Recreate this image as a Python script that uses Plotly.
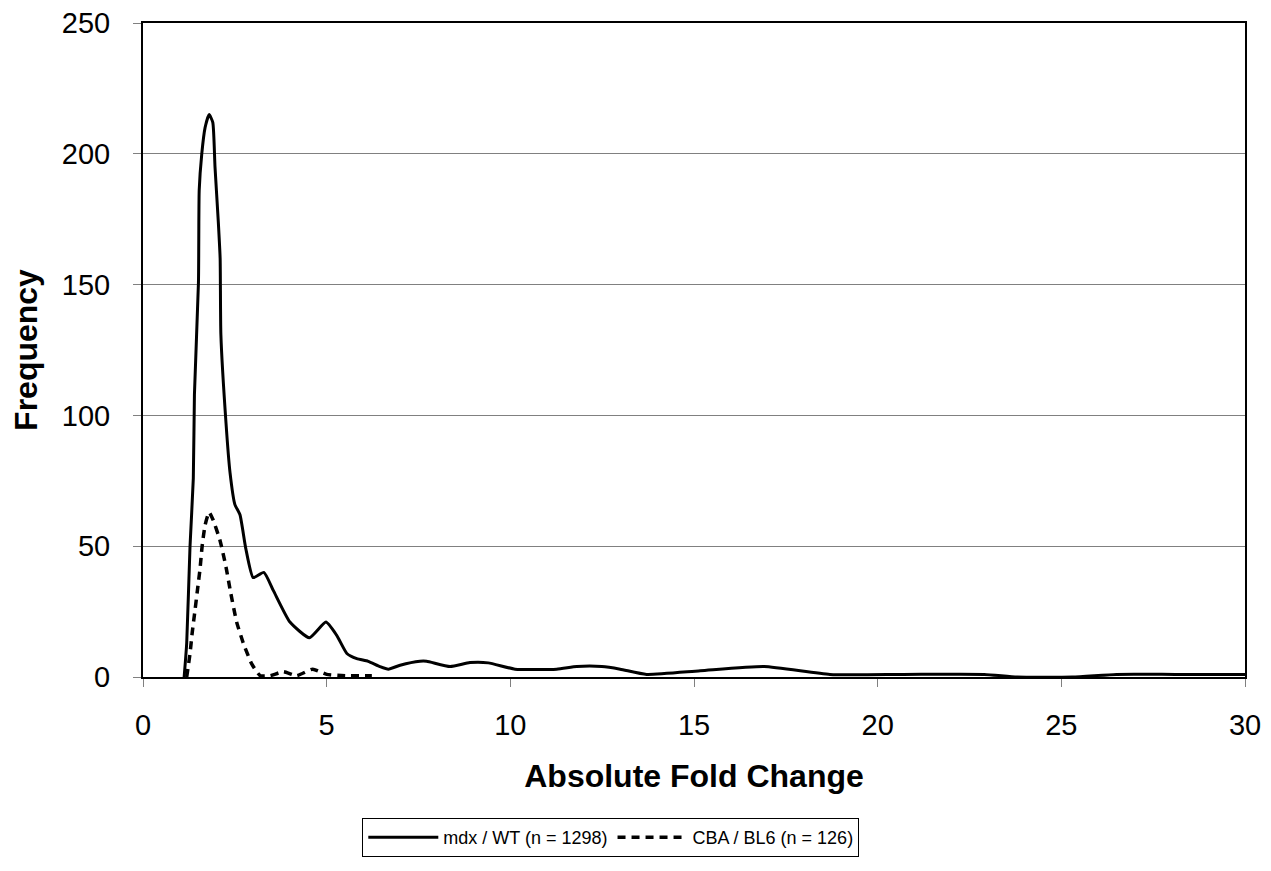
import plotly.graph_objects as go

# mdx / WT fold change distribution
x_mdx = [1.12, 1.19, 1.28, 1.37, 1.40, 1.51, 1.53, 1.60, 1.69, 1.80, 1.90, 1.96,
         2.05, 2.10, 2.12, 2.26, 2.37, 2.50, 2.64, 2.80, 3.00, 3.29, 3.55, 4.00,
         4.53, 4.98, 5.27, 5.55, 5.82, 6.13, 6.45, 6.68, 7.00, 7.54, 7.72, 8.36,
         8.90, 9.40, 10.13, 11.26, 11.81, 12.49, 12.99, 13.71, 15.17, 16.91,
         18.7, 20.7, 22.9, 23.8, 25.3, 26.5, 28.1, 30]
y_mdx = [0, 13, 50, 76, 108, 151, 186, 200, 210, 215, 212, 195,
         174, 160, 131, 97, 78, 66, 62, 49, 38, 40, 33, 21,
         15, 21, 16, 9, 7, 6, 4, 3, 4.5, 6, 6, 4,
         5.5, 5.4, 3, 3, 4, 4, 3, 1, 2.4, 4,
         1, 1, 1, 0, 0, 1, 1, 1]

# CBA / BL6
x_cba = [1.19, 1.28, 1.34, 1.42, 1.48, 1.55, 1.61, 1.69, 1.80, 1.91, 2.10, 2.26,
         2.39, 2.55, 2.73, 2.96, 3.19, 3.46, 3.82, 4.18, 4.62, 5.0, 5.5, 6.23]
y_cba = [0, 9, 17, 26, 33, 41, 50, 58, 63, 60, 52, 42,
         32, 21, 13, 5, 0.5, 0.5, 2, 0.5, 3, 1, 0.5, 0.5]

names = ["mdx / WT (n = 1298)", "CBA / BL6 (n = 126)"]

fig = go.Figure()
fig.add_trace(go.Scatter(x=x_mdx, y=y_mdx, mode="lines", name=names[0],
                         line=dict(color="black", width=3, shape="spline", smoothing=0.5)))
fig.add_trace(go.Scatter(x=x_cba, y=y_cba, mode="lines", name=names[1],
                         line=dict(color="black", width=3.5, dash="8px,6px",
                                   shape="spline", smoothing=0.5)))

font = "Liberation Sans, Arial, sans-serif"
# page body adds ~8px offset, so margins are trimmed on the left/top
fig.update_layout(
    width=1271, height=871,
    margin=dict(l=135, r=34, t=15, b=202),
    paper_bgcolor="white", plot_bgcolor="white",
    font=dict(family=font, color="black", size=29),
    showlegend=True,
    legend=dict(orientation="h", x=0.199, xanchor="left", y=-0.2156, yanchor="top",
                bordercolor="black", borderwidth=1, font=dict(size=18),
                itemwidth=70, tracegroupgap=0, traceorder="normal"),
)
fig.update_xaxes(range=[0, 30], dtick=5, tick0=0, showgrid=False, zeroline=False,
                 showline=True, linecolor="black", linewidth=2, mirror=True,
                 ticks="outside", ticklen=8, tickcolor="#808080",
                 tickfont=dict(size=29), ticklabelstandoff=13, automargin=False,
                 ticklabeloverflow="allow",
                 title=dict(text="<b>Absolute Fold Change</b>", font=dict(size=32), standoff=25))
fig.update_yaxes(range=[0, 250], dtick=50, tick0=0, showgrid=True, gridcolor="#808080",
                 gridwidth=1, zeroline=False,
                 showline=True, linecolor="black", linewidth=2, mirror=True,
                 ticks="outside", ticklen=8, tickcolor="#808080",
                 tickfont=dict(size=29), ticklabelstandoff=17, automargin=False,
                 ticklabeloverflow="allow",
                 title=dict(text="<b>Frequency</b>", font=dict(size=32), standoff=16))

fig.write_html("out.html")
